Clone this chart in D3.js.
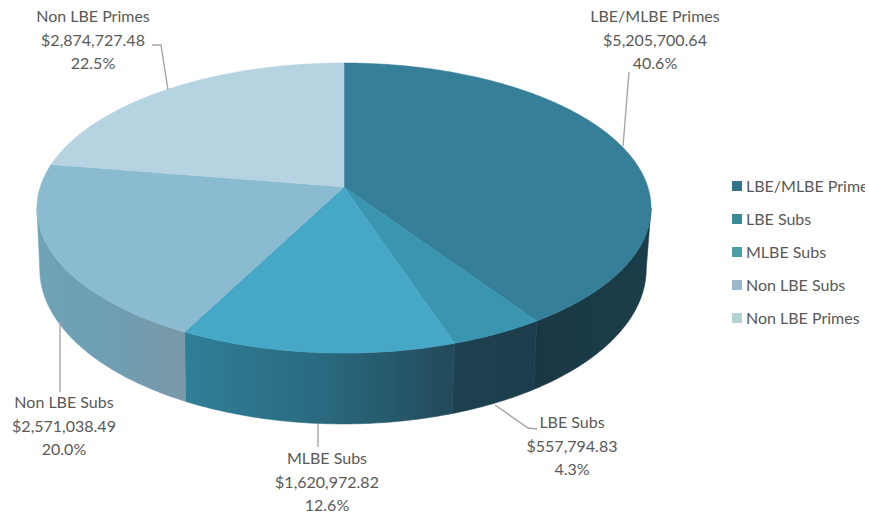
<!DOCTYPE html>
<html>
<head>
<meta charset="utf-8">
<script src="https://cdn.jsdelivr.net/npm/d3@7"></script>
<style>
  html, body { margin: 0; padding: 0; background: #fff; }
  svg { display: block; }
  text { font-family: Lato, "Open Sans", sans-serif; fill: #595959; }
</style>
</head>
<body>
<svg id="chart" width="869" height="514"></svg>
<script>
// Contract payments by prime / sub category
const categories = ["LBE/MLBE Primes", "LBE Subs", "MLBE Subs", "Non LBE Subs", "Non LBE Primes"];
const amounts = [5205700.64, 557794.83, 1620972.82, 2571038.49, 2874727.48];
const percentLabels = ["40.6%", "4.3%", "12.6%", "20.0%", "22.5%"];

const topColors = ["#367f99", "#3a95b0", "#46a8c6", "#8abbd1", "#b5d3e0"];
const legendColors = ["#2f7488", "#3a8a95", "#4a9ea4", "#9bb8cf", "#b3d2d4"];
const wallStops = [
  ["#1a3844", "#1b3d4a"],
  ["#1d4150", "#1c3d4b"],
  ["#2f7f97", "#2a6a80", "#224a5a"],
  ["#6ea3b8", "#6f9eb2", "#7a98a8"],
  ["#b5d3e0", "#b5d3e0"]
];

// Callout text anchors and leader polylines, one entry per category
const calloutCentre = [[655, 22], [572, 428], [327, 464], [64, 408], [93, 22]];
const leaders = [
  [[629, 72], [623, 146]],
  [[495, 405], [528, 428], [537, 429]],
  [[318, 424], [318, 447]],
  [[60, 322], [60, 392]],
  [[152, 45], [161, 45], [168, 90]]
];
const lineStep = 23.5;

const svg = d3.select("#chart");
const defs = svg.append("defs");
const money = d3.format("$,.2f");

// Perspective view of a disc: the far edge shrinks by `tilt`.
const tilt = 0.145;
const topPlane = { x: 344, y: 187, a: 303.8, b: 142 };
const basePlane = { x: 343, y: 246.5, a: 300, b: 151.7 };
function project(plane, angle) {
  const u = Math.sin(angle), v = Math.cos(angle), w = 1 + tilt * v;
  return [plane.x + plane.a * u / w, plane.y - plane.b * v / w];
}

const pie = d3.pie().sort(null).startAngle(0).endAngle(2 * Math.PI);
const arcs = pie(amounts);
const line = d3.line();

function samples(a0, a1) {
  const n = Math.max(2, Math.ceil((a1 - a0) / 0.01));
  return d3.range(n + 1).map(i => a0 + (a1 - a0) * i / n);
}

// The near wall is visible between the two outermost points of the rim.
const wallFrom = Math.acos(-tilt);
const wallTo = 2 * Math.PI - wallFrom;

const walls = svg.append("g");
arcs.forEach((d, i) => {
  const a0 = Math.max(d.startAngle, wallFrom), a1 = Math.min(d.endAngle, wallTo);
  if (a1 <= a0) return;
  const angles = samples(a0, a1);
  const upper = angles.map(a => project(topPlane, a));
  const lower = angles.map(a => project(basePlane, a)).reverse();
  const xs = d3.extent(upper, p => p[0]);
  const gradId = "wall" + i;
  const stops = wallStops[i];
  const grad = defs.append("linearGradient").attr("id", gradId)
    .attr("gradientUnits", "userSpaceOnUse")
    .attr("x1", xs[0]).attr("x2", xs[1]).attr("y1", 0).attr("y2", 0);
  stops.forEach((c, k) => grad.append("stop")
    .attr("offset", k / (stops.length - 1)).attr("stop-color", c));
  walls.append("path")
    .attr("d", line(upper.concat(lower)) + "Z")
    .attr("fill", `url(#${gradId})`)
    .attr("stroke", `url(#${gradId})`)
    .attr("stroke-width", 0.6);
});

const faces = svg.append("g");
arcs.forEach((d, i) => {
  const rim = samples(d.startAngle, d.endAngle).map(a => project(topPlane, a));
  faces.append("path")
    .attr("d", line([[topPlane.x, topPlane.y]].concat(rim)) + "Z")
    .attr("fill", topColors[i])
    .attr("stroke", topColors[i])
    .attr("stroke-width", 0.5);
});

// Leader lines and three-line callouts
const leaderLayer = svg.append("g");
leaders.forEach(pts => leaderLayer.append("path")
  .attr("d", line(pts)).attr("fill", "none")
  .attr("stroke", "#a6a6a6").attr("stroke-width", 1.4));

const callouts = svg.append("g").attr("font-size", 16).attr("text-anchor", "middle");
categories.forEach((name, i) => {
  const [cx, cy] = calloutCentre[i];
  [name, money(amounts[i]), percentLabels[i]].forEach((t, k) => {
    callouts.append("text").attr("x", cx).attr("y", cy + k * lineStep).text(t);
  });
});

// Legend runs off the right side of the frame
defs.append("clipPath").attr("id", "legendClip")
  .append("rect").attr("x", 700).attr("y", 160).attr("width", 165).attr("height", 180);
const legendY = d3.scalePoint().domain(categories).range([186, 318]);
const legend = svg.append("g").attr("clip-path", "url(#legendClip)");
categories.forEach((name, i) => {
  legend.append("rect")
    .attr("x", 732).attr("y", legendY(name) - 5)
    .attr("width", 10).attr("height", 10)
    .attr("fill", legendColors[i]);
  legend.append("text")
    .attr("x", 746).attr("y", legendY(name) + 5.5)
    .attr("font-size", 16).text(name);
});
</script>
</body>
</html>
